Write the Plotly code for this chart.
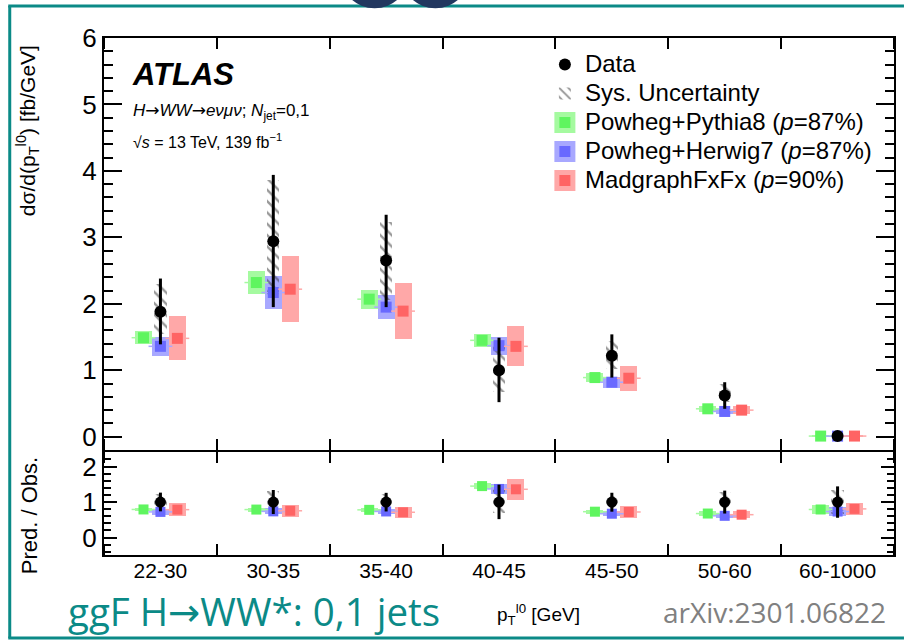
import numpy as np
import plotly.graph_objects as go

# ---- differential cross section in bins of leading-lepton pT ----
bins = ["22-30", "30-35", "35-40", "40-45", "45-50", "50-60", "60-1000"]

data = [1.88, 2.94, 2.65, 1.00, 1.22, 0.62, 0.012]
data_up = [0.50, 1.00, 0.69, 0.49, 0.32, 0.20, 0.0053]
data_dn = [0.49, 0.99, 0.70, 0.48, 0.33, 0.20, 0.0053]
sys_up = [0.42, 0.92, 0.58, 0.38, 0.22, 0.17, 0.004]
sys_dn = [0.33, 0.80, 0.60, 0.32, 0.20, 0.10, 0.004]

pythia = [1.49, 2.32, 2.07, 1.45, 0.89, 0.42, 0.0095]
pythia_err = [0.10, 0.17, 0.145, 0.095, 0.07, 0.045, 0.0015]
herwig = [1.36, 2.17, 1.95, 1.37, 0.82, 0.38, 0.0088]
herwig_err = [0.14, 0.25, 0.185, 0.135, 0.085, 0.04, 0.0015]
madgraph = [1.48, 2.22, 1.89, 1.36, 0.88, 0.40, 0.0097]
madgraph_err = [0.33, 0.50, 0.42, 0.30, 0.19, 0.06, 0.002]

models = [
    ("Powheg+Pythia8 (<i>p</i>=87%)", pythia, pythia_err, -0.15,
     "rgb(165,250,160)", "rgb(95,245,95)"),
    ("Powheg+Herwig7 (<i>p</i>=87%)", herwig, herwig_err, 0.0,
     "rgb(168,168,255)", "rgb(105,105,255)"),
    ("MadgraphFxFx (<i>p</i>=90%)", madgraph, madgraph_err, 0.15,
     "rgb(255,168,168)", "rgb(255,100,100)"),
]

FONT = "Liberation Sans, Arial, sans-serif"
TEAL = "#0b8a87"
W, H = 906, 641
L, R, T, B = 104, 10, 38, 86
PLOT_H = H - T - B
SPLIT = (555 - 450) / PLOT_H
RATIO_TOP = SPLIT - 2 / PLOT_H


def fx(x):
    return (x - L) / (W - L - R)


def fy(y):
    return (H - B - y) / PLOT_H


def big(text, size=24):
    return f'<span style="font-size:{size}px">{text}</span>'


ARROW = '<span style="font-family:DejaVu Sans">→</span>'

centers = np.arange(len(bins)) + 0.5
d = np.array(data)
fig = go.Figure()

panels = [
    ("x", "y", 1.0),
    ("x2", "y2", d),
]

for xa, ya, norm in panels:
    main = xa == "x"
    # prediction uncertainty boxes
    for name, vals, errs, off, light, dark in models:
        v = np.array(vals) / norm
        e = np.array(errs) / norm
        fig.add_trace(go.Bar(
            x=centers + off, y=2 * e, base=v - e, width=0.15,
            marker=dict(color=light, line=dict(width=0)),
            showlegend=False, hoverinfo="skip", xaxis=xa, yaxis=ya))
    # systematic uncertainty (hatched)
    fig.add_trace(go.Bar(
        x=centers, y=(np.array(sys_up) + np.array(sys_dn)) / norm,
        base=(d - np.array(sys_dn)) / norm, width=0.11,
        marker=dict(color="rgba(0,0,0,0)", line=dict(width=0),
                    pattern=dict(shape="\\", size=8, solidity=0.3,
                                 fgcolor="#333", bgcolor="rgba(0,0,0,0)",
                                 fillmode="overlay")),
        name=big("Sys. Uncertainty"), showlegend=main, legendgroup="sys",
        legendrank=2, hoverinfo="skip", xaxis=xa, yaxis=ya))
    # central values of the predictions
    for name, vals, errs, off, light, dark in models:
        v = np.array(vals) / norm
        fig.add_trace(go.Scatter(
            x=centers + off, y=v, mode="markers",
            marker=dict(symbol="line-ew", size=17,
                        line=dict(color=light, width=1.5)),
            showlegend=False, hoverinfo="skip", xaxis=xa, yaxis=ya))
        fig.add_trace(go.Scatter(
            x=centers + off, y=v, mode="markers",
            marker=dict(symbol="square", size=11 if main else 10,
                        color=dark, line=dict(width=0)),
            showlegend=False, hoverinfo="skip", xaxis=xa, yaxis=ya))
    # measured data
    fig.add_trace(go.Scatter(
        x=centers, y=d / norm, mode="markers",
        marker=dict(symbol="circle", size=12 if main else 11, color="black"),
        error_y=dict(type="data", symmetric=False,
                     array=np.array(data_up) / norm,
                     arrayminus=np.array(data_dn) / norm,
                     thickness=3, width=0, color="black"),
        name=big("Data"), showlegend=main, legendgroup="data", legendrank=1,
        hoverinfo="skip", xaxis=xa, yaxis=ya))

# legend keys for the predictions
for i, (name, vals, errs, off, light, dark) in enumerate(models):
    fig.add_trace(go.Scatter(
        x=[None], y=[None], mode="markers", name=big(name),
        marker=dict(symbol="square", size=16, color=dark,
                    line=dict(color=light, width=5)),
        legendgroup=f"m{i}", legendrank=3 + i, showlegend=True))

axis_common = dict(showline=True, linewidth=2, linecolor="black",
                   mirror="ticks", showgrid=False, zeroline=False,
                   tickcolor="black", tickwidth=2)

fig.update_layout(
    width=W, height=H,
    margin=dict(l=L, r=R, t=T, b=B),
    paper_bgcolor="white", plot_bgcolor="white",
    font=dict(family=FONT, color="black"),
    barmode="overlay", bargap=0,
    showlegend=True,
    legend=dict(x=fx(546), y=fy(45), xanchor="left", yanchor="top",
                font=dict(family=FONT, size=20, color="black"),
                bgcolor="rgba(0,0,0,0)", borderwidth=0,
                traceorder="grouped", tracegroupgap=0, itemwidth=30),
    xaxis=dict(domain=[0, 1], anchor="y", range=[0, 7],
               tickvals=list(centers), showticklabels=False, ticks="",
               minor=dict(tick0=0, dtick=1, ticks="inside", ticklen=11,
                          tickwidth=2, tickcolor="black"),
               **axis_common),
    yaxis=dict(domain=[SPLIT, 1], anchor="x", range=[-0.2, 6],
               tickvals=[0, 1, 2, 3, 4, 5, 6], ticks="inside", ticklen=18,
               tickfont=dict(size=26),
               minor=dict(dtick=0.2, ticks="inside", ticklen=9,
                          tickwidth=2, tickcolor="black"),
               **axis_common),
    xaxis2=dict(domain=[0, 1], anchor="y2", range=[0, 7], matches="x",
                tickvals=list(centers), ticktext=bins, ticks="",
                tickfont=dict(size=21), ticklabelstandoff=-4,
                minor=dict(tick0=0, dtick=1, ticks="inside", ticklen=11,
                           tickwidth=2, tickcolor="black"),
                **axis_common),
    yaxis2=dict(domain=[0, RATIO_TOP], anchor="x2", range=[-0.49, 2.41],
                tickvals=[0, 1, 2], ticks="inside", ticklen=13,
                tickfont=dict(size=26),
                minor=dict(dtick=0.2, ticks="inside", ticklen=7,
                           tickwidth=2, tickcolor="black"),
                **axis_common),
)


def note(text, x, y, size, **kw):
    fig.add_annotation(text=text, x=fx(x), y=fy(y), xref="paper",
                       yref="paper", showarrow=False,
                       xanchor=kw.pop("xanchor", "left"), yanchor="middle",
                       textangle=kw.pop("textangle", 0),
                       font=dict(size=size, family=kw.pop("family", FONT),
                                 color=kw.pop("color", "black")), **kw)


note("<b><i>ATLAS</i></b>", 130, 74, 31)
note(f"<i>H</i>{ARROW}<i>WW</i>{ARROW}<i>eνμν</i>; <i>N</i><sub>jet</sub>=0,1",
     131, 112, 17)
note("√<i>s</i> = 13 TeV, 139 fb<sup>−1</sup>", 131, 141, 16)

note("dσ/d(p<sub>T</sub><sup>l0</sup>) [fb/GeV]", 27, 131, 21,
     xanchor="center", textangle=-90)
note("Pred. / Obs.", 29, 516, 22, xanchor="center", textangle=-90)

note("p<sub>T</sub><sup>l0</sup> [GeV]", 496, 614, 19)
note(f"ggF H{ARROW}WW*: 0,1 jets", 66, 611, 38.5, family="Open Sans",
     color=TEAL)
note("arXiv:2301.06822", 662, 612, 28, family="Open Sans", color="#808080")

# slide frame and logo edge
NAVY = "#22375f"
for x0, y0, x1, y1 in [(8, 6, 906, 6), (9.5, 6, 9.5, 638), (8, 638, 906, 638)]:
    fig.add_shape(type="line", xref="paper", yref="paper",
                  x0=fx(x0), y0=fy(y0), x1=fx(x1), y1=fy(y1),
                  line=dict(color=TEAL, width=3), layer="above")
for cx in (375.3, 436.2):
    r, cy = 34.6, -26.3
    fig.add_shape(type="circle", xref="paper", yref="paper",
                  x0=fx(cx - r), x1=fx(cx + r), y0=fy(cy + r), y1=fy(cy - r),
                  fillcolor=NAVY, line=dict(width=0), layer="above")

fig.write_html("out.html")
